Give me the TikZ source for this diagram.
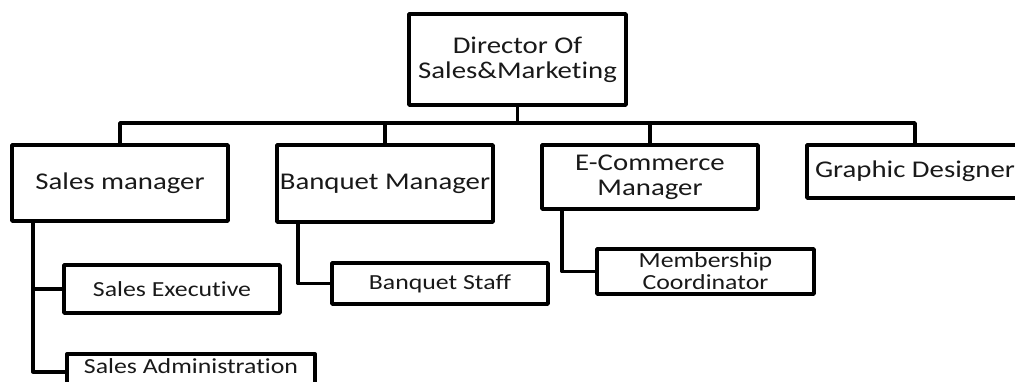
\documentclass[tikz,border=0pt]{standalone}
\usepackage{fontspec}
\setmainfont[FakeStretch=1.2,RawFeature={-liga;-clig}]{Carlito}
\begin{document}
\begin{tikzpicture}[x=1pt,y=-1pt,
  box/.style={draw=black,line width=3.6pt,rectangle,inner sep=0pt,align=center,text=black!90,line join=round},
  big/.style={font=\fontsize{24}{25}\selectfont},
  small/.style={font=\fontsize{21.5}{22}\selectfont},
  conn/.style={draw=black,line width=3.6pt,line join=round}]
\useasboundingbox (0,0) rectangle (1015,382);
\node[box,big,minimum width=217pt,minimum height=91pt] (dir) at (517.5,59.5) {Director Of\\Sales\&Marketing};
\node[box,big,minimum width=216pt,minimum height=76pt] (sm) at (120,183) {Sales manager};
\node[box,big,minimum width=216pt,minimum height=77pt] (bm) at (385,183.5) {Banquet Manager};
\node[box,big,minimum width=216pt,minimum height=64pt] (ec) at (650,177) {E-Commerce\\Manager};
\node[box,big,minimum width=216pt,minimum height=53pt] (gd) at (915,171.5) {Graphic Designer};
\node[box,small,minimum width=216pt,minimum height=48pt] (se) at (172,289) {Sales Executive};
\node[box,small,minimum width=216pt,minimum height=41pt] (bs) at (440,283.5) {Banquet Staff};
\node[box,small,minimum width=217pt,minimum height=45pt] (mc) at (705.5,271.5) {Membership\\Coordinator};
\node[box,small,minimum width=248pt,minimum height=36pt,anchor=north] (sa) at (191,352) {};
\node[small,text=black!90,anchor=base] (satext) at (191,373) {Sales Administration};
\coordinate (bus) at (0,123);
\coordinate (sx) at (33,0);
\coordinate (bx) at (298,0);
\coordinate (ex) at (562,0);
\draw[conn] (dir.south) -- (dir.south |- bus);
\draw[conn] (sm.north) -- (sm.north |- bus) -- (gd.north |- bus) -- (gd.north);
\draw[conn] (bm.north) -- (bm.north |- bus);
\draw[conn] (ec.north) -- (ec.north |- bus);
\draw[conn] (sm.south -| sx) -- (sx |- sa.west) -- (sa.west);
\draw[conn] (sx |- se.west) -- (se.west);
\draw[conn] (bm.south -| bx) -- (bx |- bs.west) -- (bs.west);
\draw[conn] (ec.south -| ex) -- (ex |- mc.west) -- (mc.west);
\end{tikzpicture}
\end{document}
